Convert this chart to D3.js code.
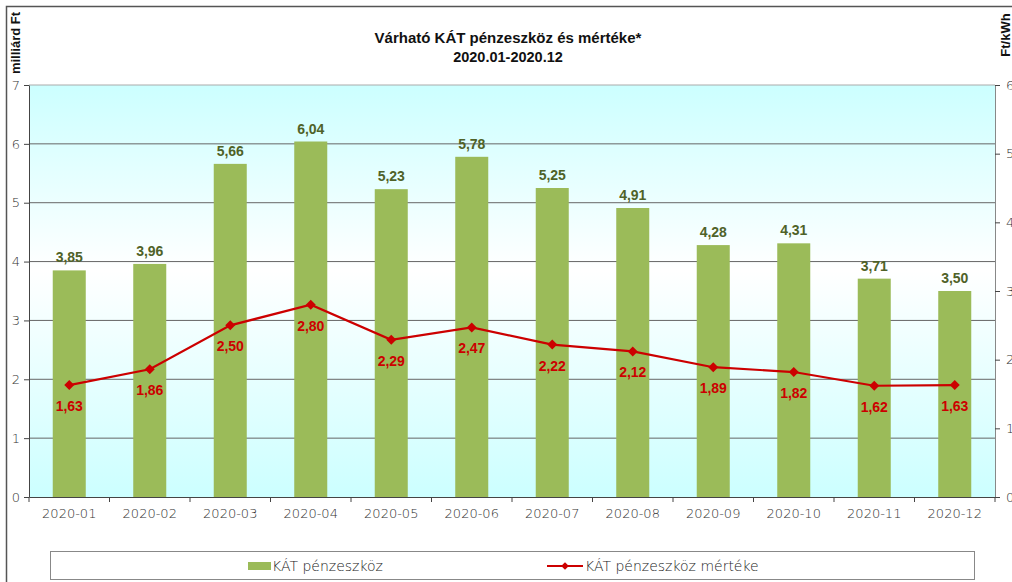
<!DOCTYPE html>
<html>
<head>
<meta charset="utf-8">
<script src="https://cdn.jsdelivr.net/npm/d3@7"></script>
<style>
  body { margin: 0; background: #fff; }
  svg { display: block; font-family: 'Liberation Sans', Arial, sans-serif; }
</style>
</head>
<body>
<svg id="chart" width="1012" height="582"></svg>
<script>
const months = ['2020-01', '2020-02', '2020-03', '2020-04', '2020-05', '2020-06',
    '2020-07', '2020-08', '2020-09', '2020-10', '2020-11', '2020-12']
const funds = [3.85, 3.96, 5.66, 6.04, 5.23, 5.78, 5.25, 4.91, 4.28, 4.31, 3.71, 3.50]
const rates = [1.63, 1.86, 2.50, 2.80, 2.29, 2.47, 2.22, 2.12, 1.89, 1.82, 1.62, 1.63]
const leftTicks = [0, 1, 2, 3, 4, 5, 6, 7]
const rightTicks = [0, 1, 2, 3, 4, 5, 6]

const plot = { left: 29, right: 995, top: 85, bottom: 497 }
const green = '#9bbb59'
const red = '#cc0000'
const fmt = v => d3.format('.2f')(v).replace('.', ',')
const lightFont = "'DejaVu Sans', sans-serif"

const svg = d3.select('#chart')

// outer frame (cut off on the right and bottom)
svg.append('rect')
    .attr('x', 6.5).attr('y', 6.5)
    .attr('width', 1100).attr('height', 700)
    .attr('fill', 'none').attr('stroke', '#555').attr('stroke-width', 1.5)

const x = d3.scaleBand().domain(months).range([plot.left, plot.right]).paddingInner(0.59).paddingOuter(0.295)
const xb = d3.scaleBand().domain(months).range([plot.left, plot.right])
const y1 = d3.scaleLinear().domain([0, 7]).range([plot.bottom, plot.top])
const y2 = d3.scaleLinear().domain([0, 6]).range([plot.bottom, plot.top])

// background gradient
const defs = svg.append('defs')
const grad = defs.append('linearGradient').attr('id', 'bg').attr('x1', 0).attr('y1', 0).attr('x2', 0).attr('y2', 1)
grad.append('stop').attr('offset', '0%').attr('stop-color', '#ccffff')
grad.append('stop').attr('offset', '45%').attr('stop-color', '#ffffff')
grad.append('stop').attr('offset', '100%').attr('stop-color', '#ccffff')

svg.append('rect')
    .attr('x', plot.left).attr('y', plot.top)
    .attr('width', plot.right - plot.left).attr('height', plot.bottom - plot.top)
    .attr('fill', 'url(#bg)')

// gridlines
svg.append('g')
    .selectAll('line')
    .data(leftTicks.slice(1))
    .enter()
    .append('line')
    .attr('x1', plot.left).attr('x2', plot.right)
    .attr('y1', d => y1(d)).attr('y2', d => y1(d))
    .attr('stroke', d => d === 7 ? '#aaa' : '#666').attr('stroke-width', 1)

// bars
svg.append('g')
    .selectAll('rect')
    .data(funds)
    .enter()
    .append('rect')
    .attr('x', (d, i) => x(months[i]))
    .attr('y', d => y1(d))
    .attr('width', x.bandwidth())
    .attr('height', d => plot.bottom - y1(d))
    .attr('fill', green)

svg.append('g')
    .selectAll('text')
    .data(funds)
    .enter()
    .append('text')
    .attr('x', (d, i) => x(months[i]) + x.bandwidth() / 2)
    .attr('y', d => y1(d) - 8)
    .attr('text-anchor', 'middle')
    .attr('font-size', 14).attr('font-weight', 'bold')
    .attr('fill', '#4f6228')
    .text(d => fmt(d))

// plot frame right side
svg.append('line')
    .attr('x1', plot.right + 0.5).attr('x2', plot.right + 0.5)
    .attr('y1', plot.top).attr('y2', plot.bottom)
    .attr('stroke', '#888')

// line series
const cx = i => xb(months[i]) + xb.bandwidth() / 2
const line = d3.line()
    .x((d, i) => cx(i))
    .y(d => y2(d))

svg.append('path')
    .datum(rates)
    .attr('d', line)
    .attr('fill', 'none').attr('stroke', red).attr('stroke-width', 2.2)

svg.append('g')
    .selectAll('path')
    .data(rates)
    .enter()
    .append('path')
    .attr('d', d3.symbol(d3.symbolSquare, 50))
    .attr('transform', (d, i) => `translate(${cx(i)},${y2(d)}) rotate(45)`)
    .attr('fill', red)

svg.append('g')
    .selectAll('text')
    .data(rates)
    .enter()
    .append('text')
    .attr('x', (d, i) => cx(i))
    .attr('y', d => y2(d) + 26)
    .attr('text-anchor', 'middle')
    .attr('font-size', 14).attr('font-weight', 'bold')
    .attr('fill', red)
    .text(d => fmt(d))

// axes
const axisStyle = g => {
    g.select('.domain').attr('stroke', '#444')
    g.selectAll('.tick line').attr('stroke', '#444')
    g.selectAll('.tick text').attr('fill', '#333').attr('font-size', 13)
        .attr('font-family', lightFont).attr('font-weight', 300)
}

svg.append('g')
    .attr('transform', `translate(${plot.left},0)`)
    .call(d3.axisLeft(y1).tickValues(leftTicks).tickFormat(d3.format('d')).tickSize(5).tickSizeOuter(0).tickPadding(4))
    .call(axisStyle)

svg.append('g')
    .attr('transform', `translate(${plot.right},0)`)
    .call(d3.axisRight(y2).tickValues(rightTicks).tickFormat(d3.format('d')).tickSize(5).tickSizeOuter(0).tickPadding(6))
    .call(axisStyle)
    .call(g => g.select('.domain').remove())

const xAxis = svg.append('g')
    .attr('transform', `translate(0,${plot.bottom})`)
    .call(d3.axisBottom(xb).tickSize(0).tickPadding(12))
    .call(axisStyle)

xAxis.selectAll('.boundary')
    .data(d3.range(months.length + 1))
    .enter()
    .append('line')
    .attr('x1', i => plot.left + i * xb.step()).attr('x2', i => plot.left + i * xb.step())
    .attr('y1', 0).attr('y2', 5)
    .attr('stroke', '#444')

// titles
svg.append('text')
    .attr('x', 508).attr('y', 43)
    .attr('text-anchor', 'middle')
    .attr('font-size', 15).attr('font-weight', 'bold').attr('fill', '#111')
    .text('Várható KÁT pénzeszköz és mértéke*')
svg.append('text')
    .attr('x', 508).attr('y', 62)
    .attr('text-anchor', 'middle')
    .attr('font-size', 14.5).attr('font-weight', 'bold').attr('fill', '#111')
    .text('2020.01-2020.12')

svg.append('text')
    .attr('transform', 'translate(20,43) rotate(-90)')
    .attr('text-anchor', 'middle')
    .attr('font-size', 13).attr('font-weight', 'bold').attr('fill', '#111')
    .text('milliárd Ft')

svg.append('text')
    .attr('transform', 'translate(1010,35) rotate(-90)')
    .attr('text-anchor', 'middle')
    .attr('font-size', 13).attr('font-weight', 'bold').attr('fill', '#111')
    .text('Ft/kWh')

// legend
const legend = svg.append('g')
legend.append('rect')
    .attr('x', 50.5).attr('y', 551.5).attr('width', 924).attr('height', 28)
    .attr('fill', '#fff').attr('stroke', '#888')

legend.append('rect')
    .attr('x', 248).attr('y', 562).attr('width', 23).attr('height', 8)
    .attr('fill', green)
legend.append('text')
    .attr('x', 272).attr('y', 571)
    .attr('font-size', 14).attr('fill', '#222')
    .attr('font-family', lightFont).attr('font-weight', 300)
    .text('KÁT pénzeszköz')

legend.append('line')
    .attr('x1', 547).attr('x2', 583).attr('y1', 566).attr('y2', 566)
    .attr('stroke', red).attr('stroke-width', 2.2)
legend.append('path')
    .attr('d', d3.symbol(d3.symbolSquare, 30))
    .attr('transform', 'translate(565,566) rotate(45)')
    .attr('fill', red)
legend.append('text')
    .attr('x', 585).attr('y', 571)
    .attr('font-size', 14).attr('fill', '#222')
    .attr('font-family', lightFont).attr('font-weight', 300)
    .text('KÁT pénzeszköz mértéke')
</script>
</body>
</html>
